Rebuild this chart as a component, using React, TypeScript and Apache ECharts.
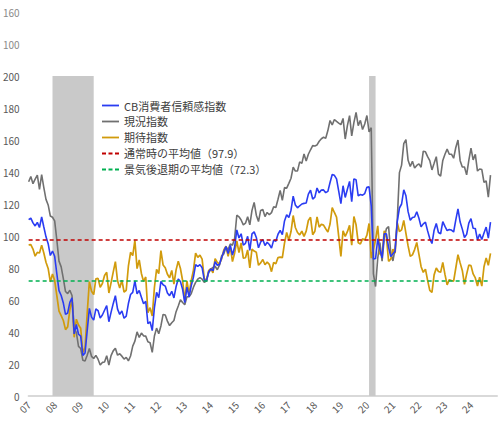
import React, { useEffect, useRef } from "react";
import * as echarts from "echarts";

// Monthly categories Jan 2007 .. Jan 2025
const months: string[] = [];
for (let y = 2007; y <= 2025; y++) {
  for (let m = 1; m <= 12; m++) {
    if (y === 2025 && m > 1) break;
    months.push(`${y}-${String(m).padStart(2, "0")}`);
  }
}

const cbIndex = [
  110.2, 111.2, 108.2, 106.3, 108.5, 105.3, 111.9, 105.6, 99.5, 95.2, 87.8, 90.6,
  87.3, 76.4, 65.9, 62.8, 58.1, 51.0, 51.9, 58.5, 61.4, 38.8, 44.7, 38.6,
  37.4, 25.3, 26.9, 40.8, 54.8, 49.3, 47.4, 54.5, 53.4, 48.7, 50.6, 53.6,
  56.5, 46.4, 52.3, 57.7, 62.7, 54.3, 51.0, 53.2, 48.6, 49.9, 57.8, 63.4,
  64.8, 72.0, 63.8, 66.0, 61.7, 57.6, 59.2, 45.2, 46.4, 40.9, 55.2, 64.8,
  61.5, 71.6, 69.5, 68.7, 64.4, 62.7, 65.4, 61.3, 68.4, 73.1, 71.5, 66.7,
  58.4, 68.0, 61.9, 69.0, 74.3, 82.1, 81.0, 82.1, 80.2, 72.4, 72.0, 77.5,
  79.4, 78.3, 83.9, 81.7, 82.2, 86.4, 90.3, 93.4, 89.0, 94.1, 88.1, 93.1,
  103.8, 98.8, 101.4, 94.3, 95.4, 99.8, 91.0, 101.3, 102.6, 99.1, 92.6, 96.3,
  97.8, 94.0, 96.1, 94.7, 92.4, 97.4, 96.7, 101.1, 103.5, 100.8, 109.4, 113.3,
  111.6, 116.1, 124.9, 119.4, 117.6, 118.9, 120.0, 120.4, 120.6, 126.2, 128.6, 123.1,
  124.3, 130.0, 127.0, 128.7, 128.8, 127.1, 127.9, 133.4, 138.4, 137.9, 135.7, 128.1,
  120.2, 131.4, 124.1, 129.2, 134.1, 121.5, 135.7, 135.1, 125.1, 125.9, 125.5, 126.5,
  130.4, 130.7, 118.8, 85.7, 85.9, 98.3, 91.7, 86.3, 101.3, 101.4, 92.9, 87.1,
  88.9, 90.4, 109.0, 117.5, 120.0, 128.9, 125.1, 115.2, 109.8, 111.6, 111.9, 115.2,
  111.1, 105.7, 107.6, 108.6, 103.2, 98.4, 95.3, 103.6, 107.8, 102.2, 101.4, 109.0,
  106.0, 103.4, 104.0, 103.7, 102.5, 110.1, 117.0, 108.7, 104.3, 99.1, 101.0, 108.0,
  110.9, 104.8, 104.7, 97.5, 101.3, 97.8, 101.9, 105.6, 98.7, 108.7,
];

const presentSituation = [
  133.9, 137.2, 132.7, 135.6, 138.0, 129.2, 138.3, 130.3, 122.9, 119.4, 112.5, 111.7,
  109.4, 97.5, 84.3, 80.7, 73.3, 65.3, 64.0, 66.1, 62.8, 41.9, 39.8, 31.0,
  29.7, 22.3, 21.9, 25.5, 29.7, 24.8, 23.4, 25.4, 23.0, 19.4, 21.0, 21.2,
  25.2, 19.4, 25.2, 28.2, 29.8, 25.5, 26.4, 24.9, 23.1, 24.1, 22.0, 25.0,
  31.2, 34.3, 40.1, 36.6, 39.3, 37.6, 37.4, 33.9, 33.3, 27.3, 37.5, 42.4,
  38.9, 43.8, 51.0, 50.6, 46.8, 44.0, 45.8, 47.2, 52.7, 56.2, 60.2, 58.4,
  57.0, 62.0, 62.0, 64.0, 68.0, 71.0, 73.0, 74.0, 73.0, 71.0, 72.0, 77.0,
  79.1, 80.4, 81.1, 78.9, 81.8, 87.6, 88.8, 93.1, 91.5, 95.0, 94.2, 98.6,
  113.0, 112.0, 110.0, 107.0, 108.0, 112.0, 107.0, 116.0, 121.0, 113.0, 109.0, 116.0,
  116.6, 112.1, 114.7, 113.3, 114.6, 118.3, 117.8, 123.0, 128.5, 122.3, 130.3, 129.9,
  132.9, 136.1, 143.1, 140.6, 140.7, 146.3, 145.4, 151.3, 146.9, 151.1, 153.9, 156.5,
  156.3, 156.9, 159.2, 160.8, 161.7, 161.1, 165.9, 172.2, 169.4, 172.8, 171.6, 170.5,
  169.6, 173.5, 160.6, 169.0, 175.2, 162.6, 170.9, 177.2, 169.0, 172.3, 166.6, 170.0,
  175.3, 165.1, 167.7, 76.4, 68.4, 86.2, 95.9, 84.2, 98.5, 104.6, 105.9, 89.4,
  84.4, 92.0, 110.1, 139.6, 144.3, 157.7, 160.3, 147.3, 143.4, 146.7, 142.5, 144.1,
  145.1, 143.0, 153.0, 152.6, 149.6, 147.1, 141.3, 145.4, 149.6, 138.7, 137.4, 147.2,
  151.1, 154.3, 151.1, 151.1, 148.6, 155.3, 160.0, 147.1, 143.1, 143.1, 138.2, 147.2,
  154.9, 147.6, 151.0, 140.6, 141.9, 141.5, 133.6, 134.4, 124.3, 138.0,
];

const expectations = [
  94.4, 94.6, 91.8, 87.4, 89.8, 89.4, 94.3, 89.4, 83.6, 79.7, 71.3, 76.2,
  72.2, 62.7, 53.0, 50.2, 47.2, 41.5, 43.2, 53.8, 60.9, 36.7, 48.0, 44.4,
  42.3, 27.3, 30.2, 51.7, 71.5, 65.5, 63.4, 73.2, 73.5, 68.0, 70.3, 75.3,
  77.3, 64.4, 70.7, 77.4, 84.0, 72.0, 67.5, 72.4, 65.0, 66.1, 81.1, 89.8,
  87.8, 97.2, 79.6, 85.0, 76.6, 71.6, 74.4, 52.1, 55.2, 50.0, 67.8, 79.2,
  76.5, 90.9, 81.9, 80.1, 76.1, 73.9, 78.5, 70.0, 78.8, 84.3, 79.7, 72.2,
  59.5, 72.0, 63.6, 72.3, 78.7, 89.3, 86.6, 88.0, 85.5, 73.5, 72.0, 78.4,
  79.6, 76.9, 85.8, 83.5, 82.5, 85.7, 91.3, 93.6, 87.3, 93.4, 84.0, 89.4,
  97.0, 89.7, 95.7, 86.1, 86.4, 91.3, 80.1, 91.8, 90.6, 89.8, 81.7, 83.2,
  85.3, 82.0, 83.7, 82.3, 77.7, 83.5, 82.7, 86.5, 86.8, 86.5, 95.5, 102.2,
  97.3, 102.8, 112.8, 105.3, 102.2, 100.7, 103.0, 99.8, 103.0, 109.7, 111.7, 100.8,
  103.0, 112.0, 105.5, 107.3, 106.8, 104.5, 102.5, 107.5, 117.7, 114.7, 111.8, 99.8,
  87.3, 103.3, 99.8, 102.7, 106.7, 94.2, 112.2, 107.0, 95.8, 95.0, 98.2, 97.5,
  100.5, 107.8, 86.2, 91.8, 97.5, 106.3, 88.8, 87.7, 103.2, 99.3, 84.2, 85.5,
  91.8, 89.3, 108.3, 102.8, 103.8, 109.7, 101.7, 93.8, 87.3, 88.2, 91.5, 96.0,
  88.5, 80.8, 77.3, 79.3, 72.3, 66.0, 64.7, 75.7, 80.0, 77.8, 77.3, 83.5,
  76.0, 69.5, 72.7, 72.2, 71.8, 80.0, 88.3, 83.2, 78.5, 69.8, 76.2, 81.8,
  81.5, 76.3, 73.8, 68.8, 74.2, 68.7, 80.8, 86.3, 81.7, 89.2,
];

const normalAvg = 97.9;
const recessionAvg = 72.3;

// recession periods [start, end) as month categories
const recessions: [string, string][] = [
  ["2007-12", "2009-07"],
  ["2020-02", "2020-05"],
];

// labels printed at the top two tick positions (220, 240) of the y axis
const yTopLabels = ["100", "160"];

const seriesNames = [
  "CB消費者信頼感指数",
  "現況指数",
  "期待指数",
  `通常時の平均値（${normalAvg}）`,
  `景気後退期の平均値（${recessionAvg}）`,
];

const SOLID_ICON = "path://M0,0H17V1.8H0Z";
const DASH_ICON = "path://M0,0H4V1.8H0Z M6.5,0H10.5V1.8H6.5Z M13,0H17V1.8H13Z";

const FONT = "'Noto Sans CJK JP', 'Noto Sans', sans-serif";

export default function App() {
  const ref = useRef<HTMLDivElement>(null);

  useEffect(() => {
    document.body.style.margin = "0";
    if (!ref.current) return;
    const chart = echarts.init(ref.current, undefined, { renderer: "svg" });
    const lastMonth = months[cbIndex.length - 1];

    chart.setOption({
      animation: false,
      backgroundColor: "#ffffff",
      textStyle: { fontFamily: FONT },
      grid: { left: 25, right: 3, top: 12, bottom: 34, containLabel: false },
      legend: {
        orient: "vertical",
        left: 97,
        top: 95,
        itemWidth: 17,
        itemHeight: 12,
        itemGap: 5,
        symbolKeepAspect: true,
        data: seriesNames.map((name, i) => ({
          name,
          icon: i < 3 ? SOLID_ICON : DASH_ICON,
        })),
        textStyle: { fontSize: 11, color: "#404040", fontFamily: FONT },
      },
      xAxis: {
        type: "category",
        data: months,
        boundaryGap: false,
        axisLine: { show: true, lineStyle: { color: "#d9d9d9", width: 2 } },
        axisTick: { show: false },
        splitLine: { show: false },
        axisLabel: {
          interval: (idx: number) => idx % 12 === 0 && idx < months.length - 1,
          formatter: (v: string) => v.slice(2, 4),
          rotate: 45,
          margin: 7,
          fontSize: 10,
          color: "#595959",
          fontFamily: FONT,
        },
      },
      yAxis: {
        type: "value",
        min: 0,
        max: 240,
        interval: 20,
        axisLine: { show: false },
        axisTick: { show: false },
        splitLine: { show: false },
        axisLabel: {
          margin: 9,
          fontSize: 10,
          color: "#595959",
          fontFamily: FONT,
          formatter: (v: number) =>
            v > 200 ? `{f|${yTopLabels[(v - 220) / 20]}}` : String(v),
          rich: { f: { color: "#8a8a8a", fontSize: 10, fontFamily: FONT } },
        },
      },
      series: [
        {
          name: "recession",
          type: "line",
          data: [],
          z: 1,
          silent: true,
          markArea: {
            silent: true,
            itemStyle: { color: "#c9c9c9" },
            data: recessions.map(([s, e]) => [
              { xAxis: s, yAxis: 0 },
              { xAxis: e, yAxis: 200 },
            ]),
          },
        },
        {
          name: seriesNames[0],
          type: "line",
          data: cbIndex,
          symbol: "none",
          z: 4,
          lineStyle: { color: "#2a3cf2", width: 1.6 },
          itemStyle: { color: "#2a3cf2" },
        },
        {
          name: seriesNames[1],
          type: "line",
          data: presentSituation,
          symbol: "none",
          z: 3,
          lineStyle: { color: "#707070", width: 1.6 },
          itemStyle: { color: "#707070" },
        },
        {
          name: seriesNames[2],
          type: "line",
          data: expectations,
          symbol: "none",
          z: 3,
          lineStyle: { color: "#d19b0c", width: 1.7 },
          itemStyle: { color: "#d19b0c" },
        },
        {
          name: seriesNames[3],
          type: "line",
          data: [],
          symbol: "none",
          z: 5,
          lineStyle: { color: "#c00000", width: 1.6, type: [4, 3] },
          itemStyle: { color: "#c00000" },
          markLine: {
            silent: true,
            symbol: "none",
            label: { show: false },
            lineStyle: { color: "#c00000", width: 1.6, type: [4, 3] },
            data: [[{ coord: [months[0], normalAvg] }, { coord: [lastMonth, normalAvg] }]],
          },
        },
        {
          name: seriesNames[4],
          type: "line",
          data: [],
          symbol: "none",
          z: 5,
          lineStyle: { color: "#00b050", width: 1.6, type: [4, 3] },
          itemStyle: { color: "#00b050" },
          markLine: {
            silent: true,
            symbol: "none",
            label: { show: false },
            lineStyle: { color: "#00b050", width: 1.6, type: [4, 3] },
            data: [[{ coord: [months[0], recessionAvg] }, { coord: [lastMonth, recessionAvg] }]],
          },
        },
      ],
    });

    return () => chart.dispose();
  }, []);

  return <div ref={ref} style={{ width: 500, height: 430 }} />;
}
